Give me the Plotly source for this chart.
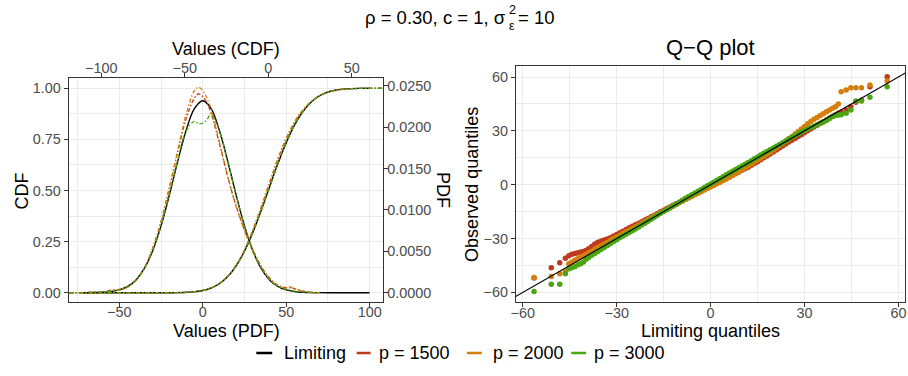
import plotly.graph_objects as go

# ---------------- data ----------------
series_names = ["Limiting", "p = 1500", "p = 2000", "p = 3000"]
series_colors = ["#000000", "#BE3A1E", "#D67E0C", "#4AA611"]

# Limiting density (bottom axis "Values (PDF)", right axis "PDF")
pdf_x_lim = [-71.4, -65, -60, -55, -50, -45, -40, -35, -30, -25, -20, -15, -10, -5, 0,
             5, 10, 15, 20, 25, 30, 35, 40, 45, 50, 55, 60, 65, 70, 80, 90, 100]
pdf_lim = [0.0, 0.00002, 0.00005, 0.00014, 0.00034, 0.00076, 0.00155, 0.00293, 0.00507,
           0.00807, 0.01180, 0.01586, 0.01958, 0.02223, 0.02319, 0.02223, 0.01958, 0.01586,
           0.01180, 0.00807, 0.00507, 0.00293, 0.00155, 0.00076, 0.00034, 0.00014, 0.00005,
           0.00002, 0.00001, 0.0, 0.0, 0.0]

# Empirical densities
pdf_x_emp = [-80, -70, -60, -55, -50, -45, -40, -35, -30, -25, -20, -15, -10, -5, -2.5, 0,
             2.5, 5, 10, 15, 20, 25, 30, 35, 40, 45, 50, 52.5, 55, 60, 65, 70]
pdf_1500 = [0.0, 0.00003, 0.0001, 0.0003, 0.0004, 0.0007, 0.0015, 0.0030, 0.0054, 0.0086,
            0.0127, 0.0170, 0.0210, 0.0235, 0.0240, 0.0237, 0.0229, 0.0217, 0.0180, 0.0140,
            0.0105, 0.0076, 0.0052, 0.0032, 0.0018, 0.0009, 0.0006, 0.0006, 0.0005, 0.0002,
            0.00005, 0.0]
pdf_2000 = [0.0, 0.00002, 0.0001, 0.0002, 0.0004, 0.0007, 0.0015, 0.0030, 0.0053, 0.0085,
            0.0126, 0.0172, 0.0215, 0.0244, 0.0248, 0.0244, 0.0235, 0.0222, 0.0182, 0.0140,
            0.0104, 0.0075, 0.0050, 0.0031, 0.0017, 0.0008, 0.0006, 0.0007, 0.0005, 0.0002,
            0.00005, 0.0]
pdf_3000 = [0.0, 0.00002, 0.0001, 0.0002, 0.0003, 0.0007, 0.0015, 0.0029, 0.0051, 0.0081,
            0.0119, 0.0160, 0.0195, 0.0207, 0.0204, 0.0205, 0.0209, 0.0216, 0.0195, 0.0158,
            0.0118, 0.0081, 0.0052, 0.0031, 0.0016, 0.0008, 0.0004, 0.0003, 0.0002, 0.0001,
            0.00003, 0.0]

# Limiting distribution function (top axis "Values (CDF)", left axis "CDF")
cdf_x_lim = [-110.7, -80, -70, -60, -55, -50, -45, -40, -35, -30, -25, -20, -15, -10, -5, 0,
             5, 10, 15, 20, 25, 30, 35, 40, 45, 50, 55, 60.7]
cdf_lim = [0.0, 0.0, 0.00002, 0.00024, 0.0007, 0.0018, 0.0044, 0.0100, 0.0209, 0.0406,
           0.0731, 0.1224, 0.1916, 0.2806, 0.3856, 0.5, 0.6144, 0.7194, 0.8084, 0.8776,
           0.9269, 0.9594, 0.9791, 0.9900, 0.9956, 0.9982, 0.9993, 0.9998]

# Empirical distribution functions
cdf_x_emp = [-119, -100, -80, -60, -50, -45, -40, -35, -30, -25, -20, -15, -10, -5, 0, 5,
             10, 15, 20, 25, 30, 35, 40, 45, 50, 55, 60, 69]
cdf_1500 = [0, 0, 0, 0.0004, 0.0020, 0.0045, 0.0100, 0.0215, 0.0420, 0.0750, 0.1250, 0.1960,
            0.2900, 0.4000, 0.5180, 0.6350, 0.7380, 0.8230, 0.8850, 0.9290, 0.9600, 0.9790,
            0.9900, 0.9950, 0.9975, 0.9990, 0.9997, 1.0]
cdf_2000 = [0, 0, 0, 0.0003, 0.0018, 0.0042, 0.0098, 0.0210, 0.0410, 0.0740, 0.1240, 0.1950,
            0.2900, 0.4020, 0.5220, 0.6400, 0.7420, 0.8260, 0.8870, 0.9300, 0.9600, 0.9790,
            0.9900, 0.9955, 0.9980, 0.9992, 0.9997, 1.0]
cdf_3000 = [0, 0, 0, 0.0002, 0.0015, 0.0040, 0.0095, 0.0205, 0.0405, 0.0735, 0.1225, 0.1915,
            0.2810, 0.3840, 0.4960, 0.6130, 0.7200, 0.8090, 0.8780, 0.9270, 0.9595, 0.9790,
            0.9900, 0.9956, 0.9982, 0.9993, 0.9998, 1.0]

# Q-Q plot: limiting quantiles (shared) and observed quantiles per series
limiting_q = [-56.4, -50.9, -48.2, -46.4, -45.3, -44.3, -43.3, -42.4, -41.5, -40.6, -39.8,
              -39, -38, -37, -36, -35, -34, -33, -32, -31, -30,
              -29, -28, -27, -26, -25, -24, -23, -22, -21, -20,
              -19, -18, -17, -16, -15, -14, -13, -12, -11, -10,
              -9, -8, -7, -6, -5, -4, -3, -2, -1, 0,
              1, 2, 3, 4, 5, 6, 7, 8, 9, 10,
              11, 12, 13, 14, 15, 16, 17, 18, 19, 20,
              21, 22, 23, 24, 25, 26, 27, 28, 29, 30,
              31, 32, 33, 34, 35, 36, 37, 38, 39,
              39.9, 40.8, 41.7, 43.3, 44.8, 46.4, 48.2, 50.9, 56.4]
obs_1500 = [-51.9, -46.3, -43.5, -40.9, -39.6, -38.8, -38.3, -37.9, -37.5, -37.2, -36.6,
            -35.6, -34.4, -33.0, -32.0, -31.3, -30.8, -30.3, -29.5, -28.6, -27.7,
            -26.8, -25.9, -24.9, -24.0, -23.2, -22.3, -21.4, -20.6, -19.7, -18.8,
            -17.9, -17.0, -16.0, -15.1, -14.2, -13.3, -12.4, -11.5, -10.6, -9.7,
            -8.8, -7.9, -7.0, -6.1, -5.2, -4.3, -3.4, -2.5, -1.6, -0.8,
            0.0, 0.8, 1.7, 2.6, 3.5, 4.4, 5.3, 6.2, 7.1, 8.0,
            8.9, 9.8, 10.8, 11.8, 12.8, 13.9, 15.0, 16.0, 17.1, 18.2,
            19.3, 20.4, 21.6, 22.7, 23.8, 24.8, 25.8, 26.8, 27.9, 29.0,
            30.1, 31.1, 32.1, 33.1, 34.1, 35.1, 36.1, 37.1, 38.1,
            39.0, 39.8, 40.3, 41.6, 43.5, 45.9, 47.0, 54.6, 60.2]
obs_2000 = [-51.7, -51.1, -49.6, -48.3, -44.0, -43.0, -42.0, -41.2, -40.3, -39.5, -38.7,
            -37.9, -37.0, -36.0, -35.0, -34.0, -33.0, -32.0, -31.0, -30.0, -29.1,
            -28.2, -27.2, -26.2, -25.3, -24.4, -23.4, -22.5, -21.5, -20.5, -19.5,
            -18.5, -17.4, -16.4, -15.5, -14.6, -13.7, -12.8, -11.9, -11.0, -10.1,
            -9.2, -8.3, -7.4, -6.5, -5.6, -4.8, -3.9, -3.0, -2.1, -1.3,
            -0.4, 0.5, 1.4, 2.3, 3.2, 4.1, 5.1, 6.1, 7.1, 8.2,
            9.3, 10.4, 11.5, 12.6, 13.7, 14.8, 15.9, 17.0, 18.1, 19.3,
            20.5, 21.8, 23.0, 24.3, 25.6, 26.9, 28.2, 29.6, 31.0, 32.4,
            34.0, 35.2, 36.4, 37.5, 38.6, 39.6, 40.6, 41.6, 42.6,
            43.5, 45.0, 51.8, 52.8, 54.0, 54.0, 54.0, 55.6, 57.8]
obs_3000 = [-59.5, -55.4, -55.4, -49.6, -46.8, -46.3, -45.6, -44.6, -44.0, -43.0, -41.5,
            -40.6, -39.3, -38.3, -37.2, -36.1, -35.0, -33.8, -32.7, -31.6, -30.6,
            -29.6, -28.6, -27.6, -26.6, -25.6, -24.6, -23.6, -22.5, -21.4, -20.3,
            -19.2, -18.1, -17.0, -15.9, -14.9, -13.9, -12.9, -11.9, -10.9, -9.8,
            -8.7, -7.6, -6.6, -5.6, -4.6, -3.6, -2.6, -1.6, -0.6, 0.4,
            1.4, 2.5, 3.5, 4.5, 5.5, 6.5, 7.5, 8.5, 9.4, 10.4,
            11.4, 12.4, 13.4, 14.5, 15.5, 16.5, 17.5, 18.5, 19.5, 20.5,
            21.4, 22.4, 23.4, 24.4, 25.4, 26.4, 27.4, 28.4, 29.3, 30.2,
            31.0, 31.8, 32.6, 33.4, 34.2, 35.0, 35.8, 36.9, 38.0,
            38.7, 38.8, 39.0, 39.8, 41.6, 46.6, 46.6, 48.7, 54.6]
qq_ref_intercept = 0.0
qq_ref_slope = 1.0

# ---------------- layout helpers ----------------
W, H = 908, 376
FONT = "Liberation Sans, Arial, Helvetica, sans-serif"
GRID = "#EBEBEB"
AX = "#333333"
TICKTXT = "#4D4D4D"


def fx(p):
    return p / W


def fy(p):
    return 1 - p / H


PDFX_RANGE = [-80.4, 108.3]     # bottom axis (Values (PDF))
CDFX_RANGE = [-119.6, 69.0]     # top axis (Values (CDF))
CDFY_RANGE = [-0.045, 1.05]     # left axis (CDF)
PDFY_RANGE = [-0.00112, 0.02593]  # right axis (PDF)
X3_RANGE = [-62.2, 62.1]
Y3_RANGE = [-65.5, 66.3]

fig = go.Figure()

emp_pdfs = [pdf_1500, pdf_2000, pdf_3000]
emp_cdfs = [cdf_1500, cdf_2000, cdf_3000]
obs = [obs_1500, obs_2000, obs_3000]

# Axes of the left panel:
#   x  = bottom "Values (PDF)", y  = right "PDF"   -> PDF curves
#   x2 = top "Values (CDF)",   y2 = left "CDF"     -> CDF curves
fig.add_trace(go.Scatter(x=pdf_x_lim, y=pdf_lim, xaxis="x", yaxis="y", mode="lines",
                         line=dict(color=series_colors[0], width=1.4, shape="spline"),
                         name=series_names[0], showlegend=False, hoverinfo="skip"))
fig.add_trace(go.Scatter(x=cdf_x_lim, y=cdf_lim, xaxis="x2", yaxis="y2", mode="lines",
                         line=dict(color=series_colors[0], width=1.4, shape="spline"),
                         name=series_names[0], showlegend=False, hoverinfo="skip"))
DASH = "4px,2px,1.5px,2px"
for i in range(3):
    col = series_colors[i + 1]
    fig.add_trace(go.Scatter(x=pdf_x_emp, y=emp_pdfs[i], xaxis="x", yaxis="y", mode="lines",
                             line=dict(color=col, width=1.3, dash=DASH, shape="spline"),
                             name=series_names[i + 1], showlegend=False, hoverinfo="skip"))
for i in range(3):
    col = series_colors[i + 1]
    fig.add_trace(go.Scatter(x=cdf_x_emp, y=emp_cdfs[i], xaxis="x2", yaxis="y2", mode="lines",
                             line=dict(color=col, width=1.3, dash=DASH, shape="spline"),
                             name=series_names[i + 1], showlegend=False, hoverinfo="skip"))

# right panel: Q-Q points
for i in range(3):
    fig.add_trace(go.Scatter(x=limiting_q, y=obs[i], xaxis="x3", yaxis="y3", mode="markers",
                             marker=dict(color=series_colors[i + 1], size=5.5, line=dict(width=0)),
                             name=series_names[i + 1], showlegend=False, hoverinfo="skip"))
ref_x = [X3_RANGE[0] - 5, X3_RANGE[1] + 5]
ref_y = [qq_ref_intercept + qq_ref_slope * v for v in ref_x]
fig.add_trace(go.Scatter(x=ref_x, y=ref_y, xaxis="x3", yaxis="y3", mode="lines",
                         line=dict(color="black", width=1.1), showlegend=False, hoverinfo="skip"))

common = dict(showline=True, linecolor=AX, linewidth=1, ticks="outside", ticklen=4,
              tickcolor=AX, tickwidth=1, zeroline=False,
              tickfont=dict(family=FONT, size=14.4, color=TICKTXT))


def minor_grid(d):
    return dict(dtick=d, showgrid=True, gridcolor=GRID, gridwidth=0.6, ticks="")


fig.update_layout(
    width=W, height=H, margin=dict(l=0, r=0, t=0, b=0),
    paper_bgcolor="white", plot_bgcolor="white", showlegend=False,
    font=dict(family=FONT, color="black"),
    xaxis=dict(domain=[fx(64), fx(381)], anchor="y", range=PDFX_RANGE, dtick=50, tick0=0,
               showgrid=True, gridcolor=GRID, gridwidth=1.2, minor=minor_grid(25),
               ticklabelstandoff=-7, **common),
    yaxis=dict(domain=[fy(302), fy(78)], anchor="x", side="right", range=PDFY_RANGE,
               dtick=0.005, tick0=0, tickformat=".4f", showgrid=False,
               ticklabelstandoff=-4, **common),
    xaxis2=dict(overlaying="x", side="top", anchor="y", range=CDFX_RANGE, dtick=50, tick0=0,
                showgrid=False, ticklabelstandoff=-6, **common),
    yaxis2=dict(overlaying="y", side="left", anchor="x", range=CDFY_RANGE, dtick=0.25, tick0=0,
                tickformat=".2f", showgrid=True, gridcolor=GRID, gridwidth=1.2,
                minor=minor_grid(0.125), **common),
    xaxis3=dict(domain=[fx(514.3), fx(906)], anchor="y3", range=X3_RANGE, dtick=30, tick0=0,
                mirror=True, showgrid=True, gridcolor=GRID, gridwidth=1.2,
                minor=minor_grid(15), ticklabelstandoff=-7, **common),
    yaxis3=dict(domain=[fy(302.3), fy(65.7)], anchor="x3", range=Y3_RANGE, dtick=30, tick0=0,
                mirror=True, showgrid=True, gridcolor=GRID, gridwidth=1.2,
                minor=minor_grid(15), **common),
)


def note(text, x, y, size, xanchor="center", angle=0, color="black"):
    fig.add_annotation(text=text, x=fx(x), y=fy(y), xref="paper", yref="paper",
                       xanchor=xanchor, yanchor="middle", showarrow=False, textangle=angle,
                       font=dict(family=FONT, size=size, color=color))


# overall title: rho = 0.30, c = 1, sigma^2_eps = 10
note("ρ = 0.30, c = 1, σ", 506, 17, 18.5, xanchor="right")
note("2", 505, 10, 12.6, xanchor="left")
note("ε", 505, 26, 12.6, xanchor="left")
note("= 10", 514.5, 17, 18.5, xanchor="left")

# axis titles
note("Values (CDF)", 222.5, 49, 18)
note("Values (PDF)", 222.5, 331, 18)
note("CDF", 17.5, 191, 18, angle=-90)
note("PDF", 441, 190, 18, angle=90)
note("Q−Q plot", 710, 48, 22)
note("Limiting quantiles", 710, 331, 18)
note("Observed quantiles", 470, 184, 18, angle=-90)

# legend (bottom, horizontal)
legend_key_x = [(253, 269), (354, 368), (465, 480), (570, 585)]
legend_text_x = [279, 374, 489, 590.5]
LEG_Y = 353
for i in range(4):
    x0, x1 = legend_key_x[i]
    fig.add_shape(type="line", xref="paper", yref="paper", x0=fx(x0), x1=fx(x1),
                  y0=fy(LEG_Y), y1=fy(LEG_Y), line=dict(color=series_colors[i], width=2.5))
    note(series_names[i], legend_text_x[i], LEG_Y, 18, xanchor="left")

fig.write_html("out.html")
